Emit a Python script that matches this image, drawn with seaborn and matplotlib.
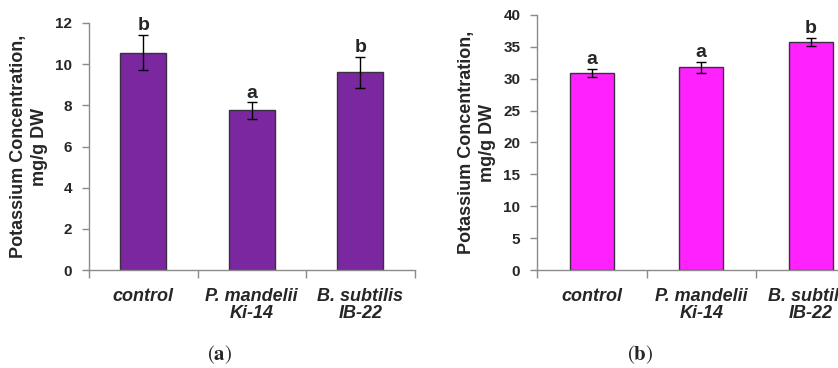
import matplotlib
matplotlib.use("Agg")
import matplotlib.pyplot as plt
import seaborn as sns
import pandas as pd

categories = ["control", "P. mandelii\nKi-14", "B. subtilis\nIB-22"]
values_a = [10.55, 7.75, 9.6]
errors_a = [0.85, 0.39, 0.77]
letters_a = ["b", "a", "b"]
values_b = [30.9, 31.8, 35.8]
errors_b = [0.65, 0.85, 0.6]
letters_b = ["a", "a", "b"]
yticks_a = [0, 2, 4, 6, 8, 10, 12]
yticks_b = [0, 5, 10, 15, 20, 25, 30, 35, 40]
ylabel = "Potassium Concentration,\nmg/g DW"

sns.set_style("white")
plt.rcParams["font.family"] = ["Liberation Sans", "DejaVu Sans"]
plt.rcParams["mathtext.fontset"] = "stix"

fig = plt.figure(figsize=(8.38, 3.68), dpi=100)
ax_a = fig.add_axes([89 / 838, 98 / 368, 325.5 / 838, 247 / 368])
ax_b = fig.add_axes([537 / 838, 98 / 368, 328.5 / 838, 255 / 368])


def draw(ax, vals, errs, letters, yticks, color, width, ylabel_pad):
    df = pd.DataFrame({"cat": categories, "val": vals})
    sns.barplot(data=df, x="cat", y="val", color=color, edgecolor="#3a3040",
                linewidth=1.0, width=width, errorbar=None, ax=ax, saturation=1)
    ax.errorbar(range(len(vals)), vals, yerr=errs, fmt="none", ecolor="black",
                elinewidth=1.0, capsize=3.5, capthick=1.0)
    for i, (v, e, L) in enumerate(zip(vals, errs, letters)):
        ax.annotate(L, (i, v + e), xytext=(0, 3.5), textcoords="offset points",
                    ha="center", va="baseline", fontsize=14, fontweight="bold")
    ax.set_xlim(-0.5, len(vals) - 0.5)
    ax.set_ylim(yticks[0], yticks[-1])
    ax.set_yticks(yticks)
    ax.set_yticklabels([str(t) for t in yticks], fontsize=11, fontweight="bold")
    ax.set_xticks(range(len(vals)))
    ax.set_xticklabels(categories, fontsize=13, fontweight="bold", style="italic",
                       linespacing=1.0)
    ax.set_xticks([-0.5, 0.5, 1.5, 2.5], minor=True)
    ax.tick_params(axis="x", which="major", length=0, pad=13)
    ax.tick_params(axis="x", which="minor", length=6, color="#8a8a8a", width=1.0,
                   direction="out", bottom=True)
    ax.tick_params(axis="y", length=5, color="#8a8a8a", width=1.0, direction="out",
                   left=True, pad=7)
    ax.set_xlabel("")
    ax.set_ylabel(ylabel, fontsize=13, fontweight="bold", linespacing=1.3,
                  labelpad=ylabel_pad)
    for s in ["top", "right"]:
        ax.spines[s].set_visible(False)
    for s in ["left", "bottom"]:
        ax.spines[s].set_color("#8a8a8a")
        ax.spines[s].set_linewidth(1.0)


draw(ax_a, values_a, errors_a, letters_a, yticks_a, "#7B279F", 0.42, 5)
draw(ax_b, values_b, errors_b, letters_b, yticks_b, "#FF22FF", 0.40, 5)

fig.text(220 / 838, 13 / 368, r"$(\mathbf{a})$", ha="center", va="center", fontsize=15)
fig.text(640 / 838, 13 / 368, r"$(\mathbf{b})$", ha="center", va="center", fontsize=15)

fig.savefig("out.png", dpi=100)
